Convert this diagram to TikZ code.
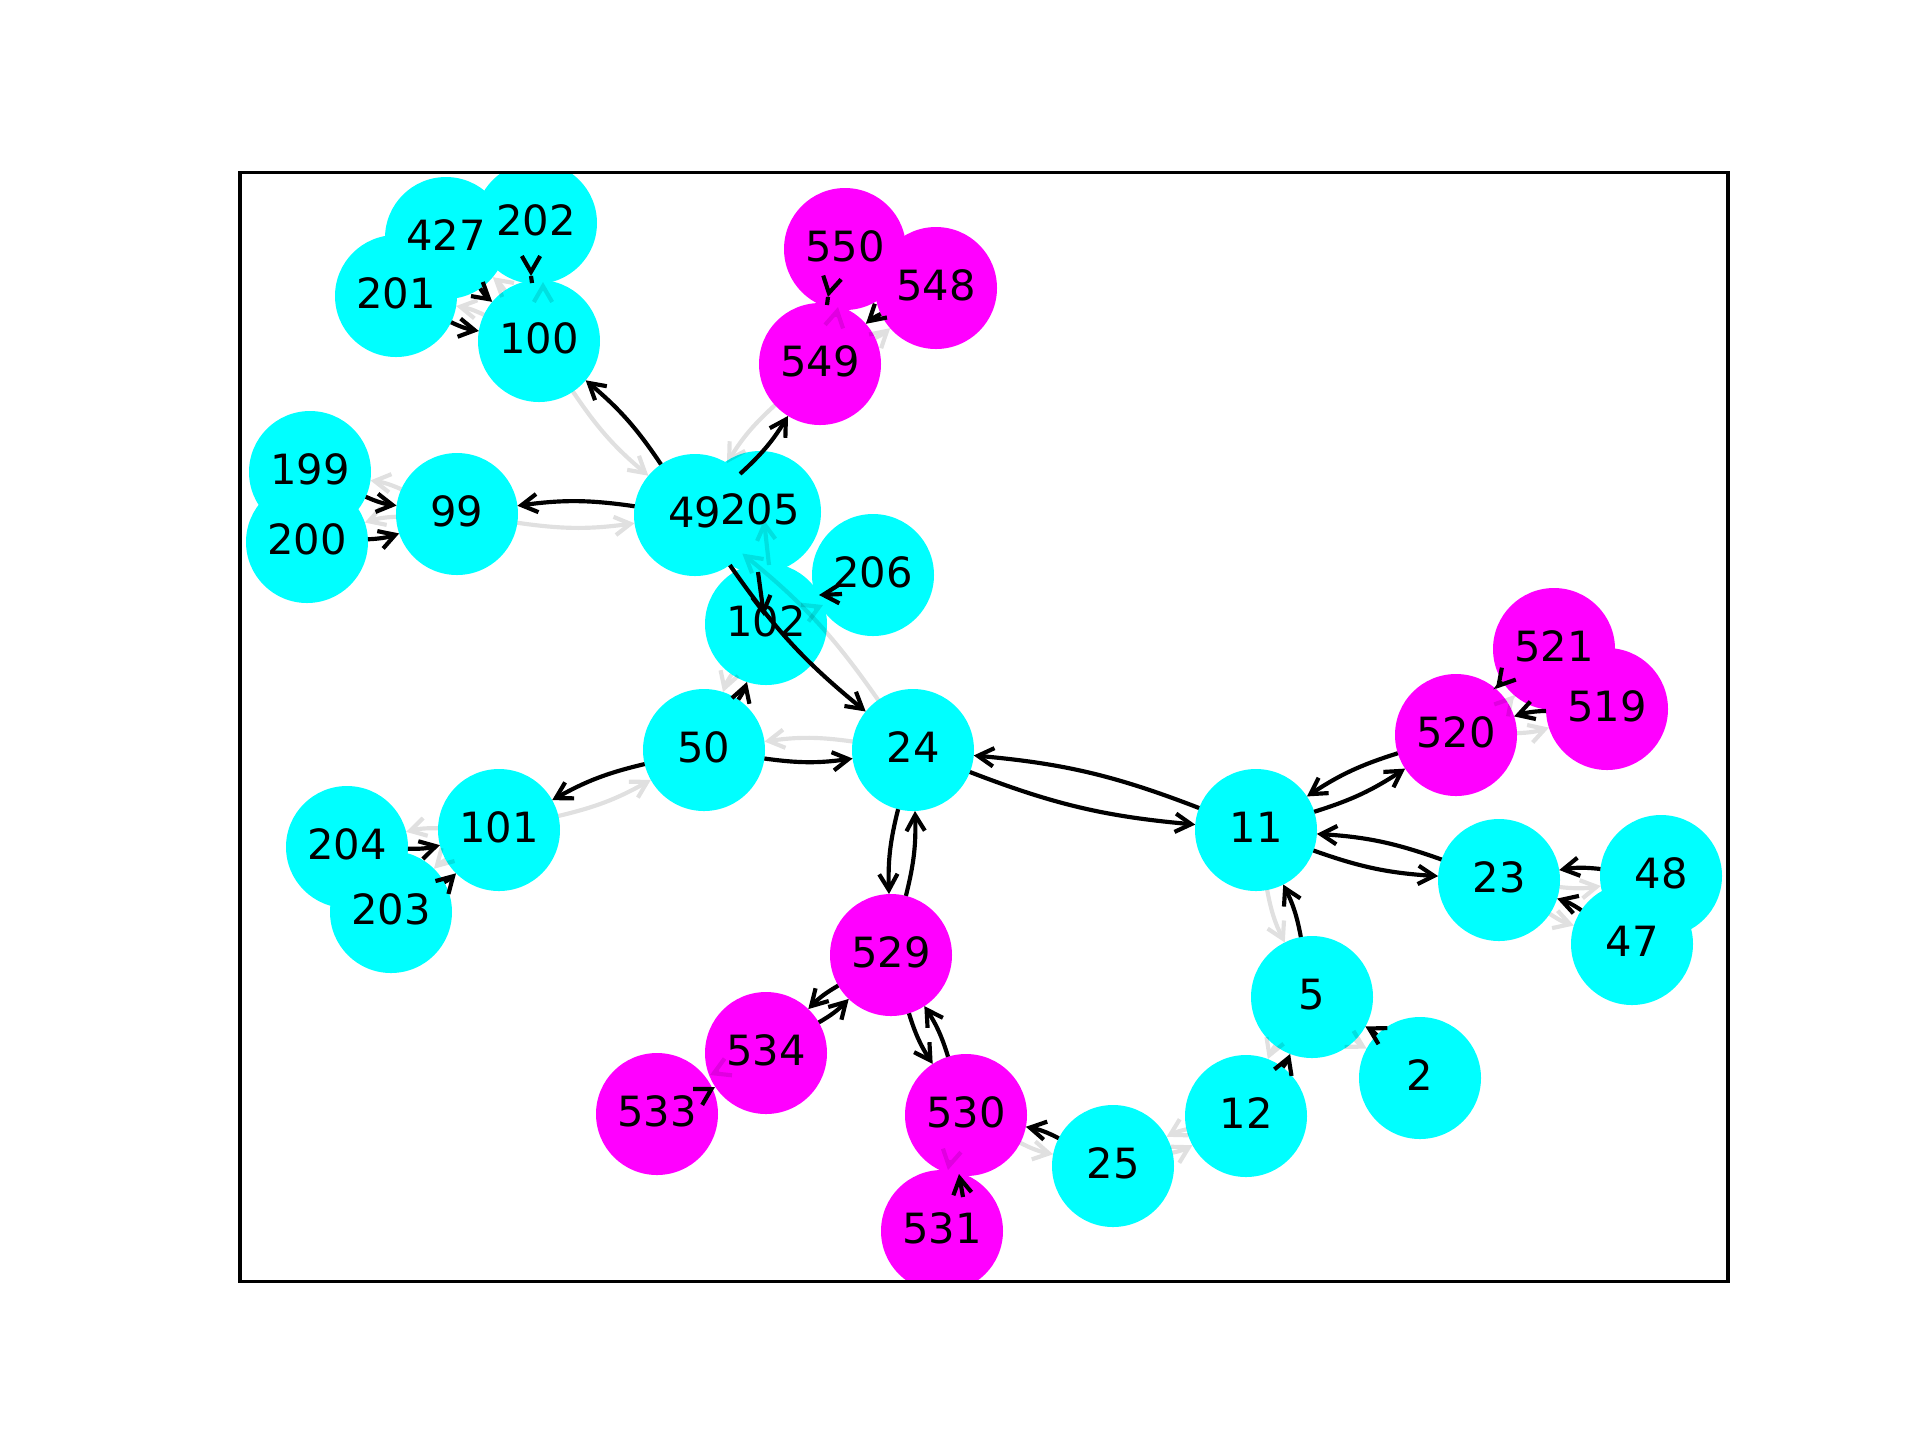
\documentclass[tikz,border=0pt]{standalone}
\usepackage{fontspec}
\setmainfont{DejaVu Sans}
\usetikzlibrary{arrows.meta,calc}
\definecolor{cyanv}{RGB}{0,255,255}
\definecolor{magv}{RGB}{255,0,255}
\tikzset{
  vtx/.style={circle, inner sep=0pt, outer sep=0pt, minimum size=29.28pt},
  cy/.style={vtx, fill=cyanv},
  mg/.style={vtx, fill=magv},
  lbl/.style={inner sep=0pt, text depth=1.45pt, font=\fontsize{10}{12}\selectfont},
  edgeline/.style={line width=1pt, draw=black,
                   -{Straight Barb[length=3.8pt,width=4.4pt]}, bend right=8},
  plainline/.style={line width=1pt, draw=black},
}
% faint (second) edge set: translucent black, one group per edge
\newcommand{\faintpath}[1]{\begin{scope}[transparency group, opacity=0.12]\draw[edgeline] #1;\end{scope}}
% vertex label drawn above everything else
\newcommand{\vlabel}[1]{\node[lbl] (l#1) at (n#1) {#1};}
\begin{document}
\begin{tikzpicture}[x=0.24pt, y=-0.24pt]
\useasboundingbox (0,0) rectangle (1920,1440);
\begin{scope}
\clip (240,172.8) rectangle (1728,1281.6);
% vertices
\node[cy] (n427) at (446,238) {};
\node[cy] (n202) at (536,223) {};
\node[cy] (n201) at (396,296) {};
\node[cy] (n100) at (539,341) {};
\node[mg] (n550) at (845,249) {};
\node[mg] (n548) at (936,288) {};
\node[mg] (n549) at (820,364) {};
\node[cy] (n199) at (310,472) {};
\node[cy] (n200) at (307,542) {};
\node[cy] (n99)  at (457,514) {};
\node[cy] (n49)  at (695,515) {};
\node[cy] (n205) at (760,512) {};
\node[cy] (n206) at (873,575) {};
\node[cy] (n102) at (766,624) {};
\node[mg] (n521) at (1554,649) {};
\node[mg] (n519) at (1607,709) {};
\node[mg] (n520) at (1456,735) {};
\node[cy] (n50)  at (704,750) {};
\node[cy] (n24)  at (913,750) {};
\node[cy] (n11)  at (1256,830) {};
\node[cy] (n204) at (347,847) {};
\node[cy] (n101) at (499,830) {};
\node[cy] (n203) at (391,912) {};
\node[cy] (n23)  at (1499,880) {};
\node[cy] (n48)  at (1661,876) {};
\node[cy] (n47)  at (1632,944) {};
\node[mg] (n529) at (891,955) {};
\node[cy] (n5)   at (1312,997) {};
\node[mg] (n534) at (766,1053) {};
\node[mg] (n533) at (657,1114) {};
\node[mg] (n530) at (966,1115) {};
\node[cy] (n2)   at (1420,1078) {};
\node[cy] (n12)  at (1246,1116) {};
\node[cy] (n25)  at (1113,1166) {};
\node[mg] (n531) at (942,1231) {};

% faint edges
\faintpath{(n100) to (n49)}
\faintpath{(n549) to (n49)}
\faintpath{(n99) to (n49)}
\faintpath{(n99) to (n199)}
\faintpath{(n99) to (n200)}
\faintpath{(n24) to (n49)}
\faintpath{(n102) to (n50)}
\faintpath{(n24) to (n50)}
\faintpath{(n101) to (n50)}
\faintpath{(n101) to (n204)}
\faintpath{(n101) to (n203)}
\faintpath{(n11) to (n5)}
\faintpath{(n5) to (n12)}
\faintpath{(n5) to (n2)}
\faintpath{(n12) to (n25)}
\faintpath{(n25) to (n12)}
\faintpath{(n530) to (n25)}
\faintpath{(n549) to (n548)}
\faintpath{(n100) to (n201)}
\faintpath{(n100) to (n427)}
\faintpath{(n520) to (n519)}
\faintpath{(n520) to (n521)}
\faintpath{(n23) to (n48)}
\faintpath{(n23) to (n47)}
% faint edges between overlapping vertices
\faintpath{($(n100.center)+(4,-50)$) -- ($(n100.center)+(4,-59)$)}
\faintpath{($(n102.center)+(3,-59)$) -- ($(n205.center)+(4,8)$)}
\faintpath{($(n102.center)+(48,-15)$) -- ($(n102.center)+(57,-19)$)}
\faintpath{($(n550.center)+(-9,68)$) -- ($(n550.center)+(-7,58)$)}
\faintpath{($(n531.center)+(8,-71)$) -- ($(n531.center)+(6,-61)$)}
\faintpath{($(n533.center)+(62,-43)$) -- ($(n533.center)+(53,-39)$)}

% main edges
\draw[edgeline] (n49) to (n100);
\draw[edgeline] (n49) to (n99);
\draw[edgeline] (n49) to (n549);
\draw[edgeline] (n49) to (n24);
\draw[edgeline] (n50) to (n102);
\draw[edgeline] (n50) to (n24);
\draw[edgeline] (n50) to (n101);
\draw[edgeline] (n24) to (n11);
\draw[edgeline] (n11) to (n24);
\draw[edgeline] (n24) to (n529);
\draw[edgeline] (n529) to (n24);
\draw[edgeline] (n11) to (n520);
\draw[edgeline] (n520) to (n11);
\draw[edgeline] (n11) to (n23);
\draw[edgeline] (n23) to (n11);
\draw[edgeline] (n5) to (n11);
\draw[edgeline] (n48) to (n23);
\draw[edgeline] (n47) to (n23);
\draw[edgeline] (n521) to (n520);
\draw[edgeline] (n519) to (n520);
\draw[edgeline] (n529) to (n534);
\draw[edgeline] (n534) to (n529);
\draw[edgeline] (n529) to (n530);
\draw[edgeline] (n530) to (n529);
\draw[edgeline] (n25) to (n530);
\draw[edgeline] (n12) to (n5);
\draw[edgeline] (n2) to (n5);
\draw[edgeline] (n204) to (n101);
\draw[edgeline] (n203) to (n101);
\draw[edgeline] (n199) to (n99);
\draw[edgeline] (n200) to (n99);
\draw[edgeline] (n201) to (n100);
\draw[edgeline] (n427) to (n100);
\draw[edgeline] (n548) to (n549);
% main edges between overlapping vertices
\draw[plainline] ($(n100.center)+(-7,-58)$) -- ($(n100.center)+(-8,-65)$);
\draw[edgeline] ($(n100.center)+(-8,-73)$) -- ($(n100.center)+(-8,-65)$);
\draw[plainline] ($(n549.center)+(7,-59)$) -- ($(n549.center)+(8,-67)$);
\draw[edgeline] ($(n549.center)+(9.5,-74)$) -- ($(n549.center)+(8,-67)$);
\draw[edgeline] ($(n102.center)+(-8,-52)$) -- ($(n102.center)+(-2,-8)$);
\draw[edgeline] ($(n206.center)+(-31,19)$) -- ($(n102.center)+(53,-29)$);
\draw[edgeline] ($(n531.center)+(21,-34)$) -- ($(n530.center)+(-7,59)$);
\draw[edgeline] ($(n534.center)+(-58,38)$) -- ($(n534.center)+(-51,34)$);

% labels
\vlabel{427}\vlabel{202}\vlabel{201}\vlabel{100}\vlabel{550}\vlabel{548}
\vlabel{549}\vlabel{199}\vlabel{200}\vlabel{99}\vlabel{49}\vlabel{205}
\vlabel{206}\vlabel{102}\vlabel{521}\vlabel{519}\vlabel{520}\vlabel{50}
\vlabel{24}\vlabel{11}\vlabel{204}\vlabel{101}\vlabel{203}\vlabel{23}
\vlabel{48}\vlabel{47}\vlabel{529}\vlabel{5}\vlabel{534}\vlabel{533}
\vlabel{530}\vlabel{2}\vlabel{12}\vlabel{25}\vlabel{531}
\end{scope}
% axes frame
\draw[line width=0.8pt] (240,172.8) rectangle (1728,1281.6);
\end{tikzpicture}
\end{document}
